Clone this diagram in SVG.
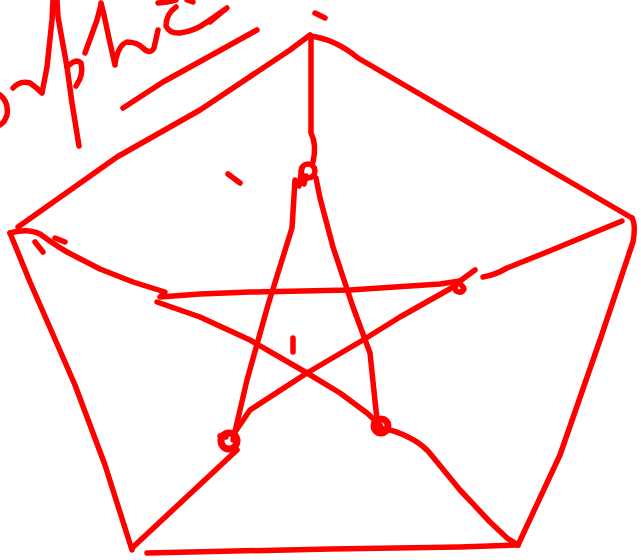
<svg xmlns="http://www.w3.org/2000/svg" width="641" height="560" viewBox="0 0 641 560">
<style>
.s{fill:none;stroke:#ff0000;stroke-width:5.5;stroke-linecap:round;stroke-linejoin:round}
</style>
<rect width="641" height="560" fill="#ffffff"/>
<g id="outer" class="s">
<path d="M18,227 L117,157 L200,110 L290,50 L310,35"/>
<path d="M310,36 Q335,39 358,58 L632,218"/>
<path d="M632,218 Q636,225 633,242 L600,340 L560,455 L518,545"/>
<path d="M147,553 L330,549 L460,547 L518,545"/>
<path d="M10,233 L30,282 L75,385 L105,465 L132,550"/>
</g>
<g id="spokes" class="s">
<path d="M311,36 L311,133 Q317,145 313,162"/>
<path d="M10,233 Q28,228 40,234 Q55,245 67,252 L100,269 L133,282 L165,292 L160,297 L200,294 L250,292 L350,290 L440,284 L460,281"/>
<path d="M483,277 Q495,275 507,268 L547,252 L622,221"/>
<path d="M132,548 L237,450"/>
<path d="M380,428 Q395,430 410,438 Q420,443 428,451 L460,490 L490,522 L507,538 L518,545"/>
</g>
<g id="star" class="s">
<path d="M295,180 L292,228 L268,305 L247,380 L233,440"/>
<path d="M316,178 L320,198 L333,247 L353,307 L370,353 L377,420"/>
<path d="M157,302 L200,317 L250,340 L307,373 L340,393 L367,413 L380,425"/>
<path d="M233,435 L250,410 L307,373 L363,340 L400,317 L455,286"/>
<path d="M460,281 L475,270"/>
</g>
<g id="knots" class="s">
<circle cx="308" cy="171" r="7"/>
<path d="M302,168 L299,186 M306,176 L304,184"/>
<circle cx="381" cy="426" r="7" stroke-width="7"/>
<circle cx="229" cy="441" r="8" stroke-width="7"/>
<path d="M220,436 L226,437"/>
<path d="M458,283 q-5,3 -2,8 q5,3 8,-2 q-1,-4 -6,-6"/>
</g>
<g id="marks" class="s">
<path d="M315,13 L325,18"/>
<path d="M228,174 L240,183"/>
<path d="M293,338 L293,352"/>
<path d="M35,242 L43,252"/>
<path d="M55,238 L65,242"/>
</g>
<g id="scribble" class="s">
<path d="M0,95 Q9,102 7,115 Q5,122 0,125"/>
<path d="M13,88 Q20,80 30,83 Q37,88 42,93 L47,67 L52,20 L53,0"/>
<path d="M57,0 L58,17 L67,67 L72,103 L79,146"/>
<path d="M67,67 Q76,58 81,63 Q84,75 76,86"/>
<path d="M85,53 L97,20 L101,5"/>
<path d="M101,3 L104,15 L110,43 L115,65"/>
<path d="M115,64 Q118,45 127,42 Q137,42 143,48 Q150,55 154,48 L158,30"/>
<path d="M176,7 Q166,14 166,26 Q170,34 180,33 Q195,31 207,22 L227,8 L210,22"/>
<path d="M158,3 L167,2 L176,0"/>
<path d="M187,0 L193,2"/>
<path d="M123,108 L163,82 L257,30"/>
</g>
</svg>
